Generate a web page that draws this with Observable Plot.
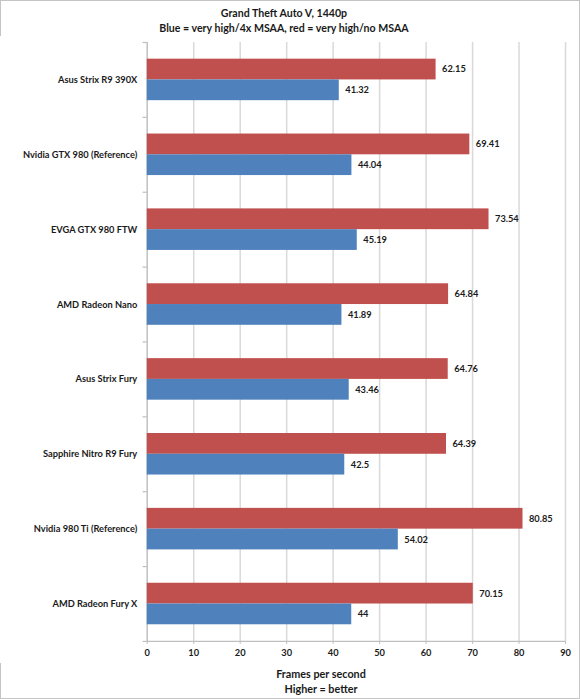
<!DOCTYPE html>
<html>
<head>
<meta charset="utf-8">
<script src="https://cdn.jsdelivr.net/npm/d3@7"></script>
<script src="https://cdn.jsdelivr.net/npm/@observablehq/plot@0.6"></script>
<style>
  html, body { margin: 0; padding: 0; background: #fff; }
  #wrap { position: relative; width: 580px; height: 699px; box-sizing: border-box; border: 1px solid #c4c4c4; font-family: Lato, "Open Sans", sans-serif; color: #1a1a1a; }
  #title { position: absolute; top: 5px; left: 0; width: 566px; text-align: center; font-weight: bold; font-size: 10.6px; line-height: 15px; }
  #chart { position: absolute; top: 35px; left: -1px; }
  #caption { position: absolute; top: 665px; left: 230px; width: 180px; text-align: center; font-weight: bold; font-size: 10.8px; line-height: 15px; }
</style>
</head>
<body>
<div id="wrap">
  <div id="title">Grand Theft Auto V, 1440p<br>Blue = very high/4x MSAA, red = very high/no MSAA</div>
  <div id="chart"></div>
  <div id="caption">Frames per second<br>Higher = better</div>
</div>
<script>
const categories = [
  "Asus Strix R9 390X",
  "Nvidia GTX 980 (Reference)",
  "EVGA GTX 980 FTW",
  "AMD Radeon Nano",
  "Asus Strix Fury",
  "Sapphire Nitro R9 Fury",
  "Nvidia 980 Ti (Reference)",
  "AMD Radeon Fury X"
];
const noMsaa = [62.15, 69.41, 73.54, 64.84, 64.76, 64.39, 80.85, 70.15];
const msaa4x = [41.32, 44.04, 45.19, 41.89, 43.46, 42.5, 54.02, 44];
const xTicks = [0, 10, 20, 30, 40, 50, 60, 70, 80, 90];

const red = categories.map((c, i) => ({cat: c, v: noMsaa[i]}));
const blue = categories.map((c, i) => ({cat: c, v: msaa4x[i]}));

const gray = "#bfbfbf";
const plot = Plot.plot({
  width: 580,
  height: 628,
  marginLeft: 147,
  marginRight: 14,
  marginTop: 6,
  marginBottom: 22,
  style: {fontFamily: "Lato, 'Open Sans', sans-serif", fontSize: "9.3px", color: "#1a1a1a", background: "#fff"},
  x: {domain: [0, 90], ticks: xTicks, label: null},
  y: {domain: categories, padding: 0, label: null},
  marks: [
    Plot.gridX(xTicks, {stroke: "#d9d9d9", strokeOpacity: 1, strokeWidth: 1.5}),
    Plot.ruleX([0], {stroke: gray, strokeWidth: 1.2}),
    Plot.ruleY(categories, {y: d => d, x1: 0, x2: 90, dy: 37.5, filter: (d, i) => i === categories.length - 1, stroke: gray, strokeWidth: 1.2}),
    Plot.ruleY(categories, {y: d => d, x1: -0.9, x2: 0, dy: -37.5, stroke: gray, strokeWidth: 1.2}),
    Plot.ruleY(categories, {y: d => d, x1: -0.9, x2: 0, dy: 37.5, filter: (d, i) => i === categories.length - 1, stroke: gray, strokeWidth: 1.2}),
    Plot.barX(red, {x: "v", y: "cat", fill: "#C0504D", insetTop: 16.7, insetBottom: 37.5}),
    Plot.barX(blue, {x: "v", y: "cat", fill: "#4F81BD", insetTop: 37.5, insetBottom: 16.7}),
    Plot.text(red, {x: "v", y: "cat", text: d => String(d.v), dx: 6, dy: -10.5, textAnchor: "start", fontWeight: "bold", fill: "#1a1a1a"}),
    Plot.text(blue, {x: "v", y: "cat", text: d => String(d.v), dx: 6, dy: 10.5, textAnchor: "start", fontWeight: "bold", fill: "#1a1a1a"}),
    Plot.axisX({ticks: xTicks, tickSize: 3, tickPadding: 5, stroke: gray, fontWeight: "bold", label: null}),
    Plot.axisY({tickSize: 0, tickPadding: 10, fontWeight: "bold", label: null})
  ]
});
document.getElementById("chart").appendChild(plot);
</script>
</body>
</html>
